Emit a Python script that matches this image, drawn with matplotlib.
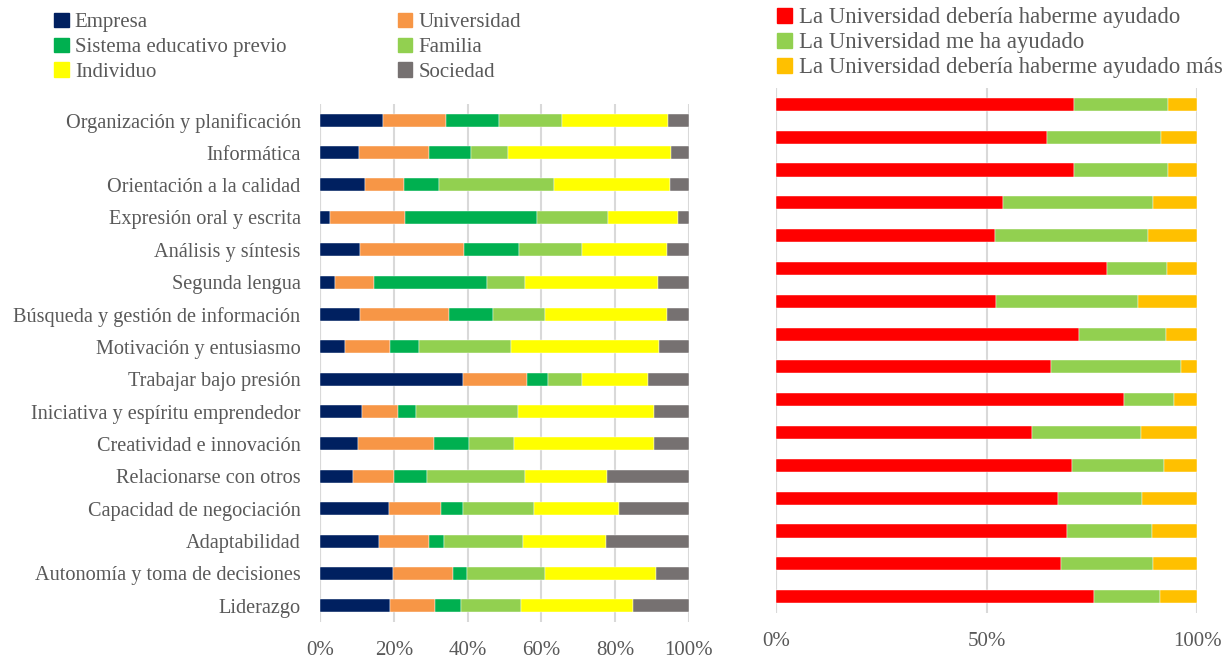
import numpy as np
import matplotlib
matplotlib.use("Agg")
from matplotlib import pyplot as plt
from matplotlib.patches import Patch
from matplotlib.ticker import PercentFormatter

plt.rcParams['font.family'] = ['Liberation Serif', 'DejaVu Serif']

competencias = ["Organización y planificación", "Informática", "Orientación a la calidad",
                "Expresión oral y escrita", "Análisis y síntesis", "Segunda lengua",
                "Búsqueda y gestión de información", "Motivación y entusiasmo",
                "Trabajar bajo presión", "Iniciativa y espíritu emprendedor",
                "Creatividad e innovación", "Relacionarse con otros",
                "Capacidad de negociación", "Adaptabilidad",
                "Autonomía y toma de decisiones", "Liderazgo"]

# izquierda: quien ha contribuido (%)
empresa     = [17.0, 10.6, 12.3, 2.8, 10.8, 4.1, 10.8, 6.8, 38.8, 11.4, 10.3, 8.9, 18.8, 16.1, 19.8, 19.0]
universidad = [17.1, 18.8, 10.5, 20.1, 28.1, 10.5, 24.1, 12.1, 17.2, 9.6, 20.7, 11.2, 14.1, 13.4, 16.2, 12.2]
sistema     = [14.4, 11.5, 9.4, 35.9, 15.0, 30.6, 12.0, 7.9, 5.9, 5.1, 9.4, 9.0, 5.9, 4.1, 3.8, 7.0]
familia     = [17.1, 10.0, 31.3, 19.2, 17.1, 10.4, 14.0, 25.0, 9.1, 27.6, 12.3, 26.5, 19.1, 21.4, 21.2, 16.3]
individuo   = [28.7, 44.2, 31.4, 19.0, 23.0, 36.0, 33.1, 40.2, 18.0, 36.8, 37.8, 22.1, 23.0, 22.5, 30.1, 30.3]
sociedad    = [5.7, 4.9, 5.1, 3.0, 6.0, 8.4, 6.0, 8.0, 11.0, 9.5, 9.5, 22.3, 19.1, 22.5, 8.9, 15.2]

# derecha: papel de la universidad (%)
deberia     = [70.8, 64.4, 70.8, 54.0, 51.9, 78.7, 52.3, 71.9, 65.4, 82.6, 60.9, 70.4, 66.9, 69.2, 67.7, 75.6]
ha_ayudado  = [22.2, 27.0, 22.2, 35.6, 36.4, 14.2, 33.6, 20.8, 30.7, 12.0, 25.9, 21.8, 20.1, 20.1, 21.8, 15.6]
deberia_mas = [7.0, 8.6, 7.0, 10.4, 11.7, 7.1, 14.1, 7.3, 3.9, 5.4, 13.2, 7.8, 13.0, 10.7, 10.5, 8.8]

izq_series = [("Empresa", empresa, "#002060"), ("Universidad", universidad, "#F79646"),
              ("Sistema educativo previo", sistema, "#00B050"), ("Familia", familia, "#92D050"),
              ("Individuo", individuo, "#FFFF00"), ("Sociedad", sociedad, "#767171")]
der_series = [("La Universidad debería haberme ayudado", deberia, "#FF0000"),
              ("La Universidad me ha ayudado", ha_ayudado, "#92D050"),
              ("La Universidad debería haberme ayudado más", deberia_mas, "#FFC000")]

gris = "#595959"
fig = plt.figure(figsize=(12.29, 6.61), dpi=100)
ax1 = fig.add_axes([0.2604, 0.059, 0.3002, 0.7837])
ax2 = fig.add_axes([0.6314, 0.0726, 0.3426, 0.7943])

y = np.arange(len(competencias))


def apilar(ax, series):
    tot = np.sum([s[1] for s in series], axis=0)
    izq = np.zeros(len(y))
    for nombre, vals, col in series:
        v = np.array(vals) / tot * 100
        ax.barh(y, v, left=izq, height=0.4, color=col, edgecolor="white", linewidth=0.3,
                label=nombre, zorder=3)
        izq += v


apilar(ax1, izq_series)
apilar(ax2, der_series)

for ax, ticks in [(ax1, [0, 20, 40, 60, 80, 100]), (ax2, [0, 50, 100])]:
    ax.set_xlim(0, 100)
    ax.set_ylim(len(y) - 0.5, -0.5)
    ax.set_xticks(ticks)
    ax.xaxis.set_major_formatter(PercentFormatter(decimals=0))
    ax.grid(axis="x", color="#d9d9d9", linewidth=1.5, zorder=0)
    for s in ["top", "right", "bottom", "left"]:
        ax.spines[s].set_visible(False)
    ax.axvline(0, color="#d9d9d9", linewidth=1.5, zorder=1)
    ax.tick_params(axis="x", length=0, pad=14, labelsize=15, labelcolor=gris)
    ax.tick_params(axis="y", length=0)

ax1.set_yticks(y)
ax1.set_yticklabels(competencias, fontsize=14.6, color=gris)
ax1.tick_params(axis="y", pad=14)
ax2.set_yticks([])

h1 = [Patch(color=c) for _, _, c in izq_series]
l1 = [n for n, _, _ in izq_series]
orden = [0, 2, 4, 1, 3, 5]
fig.legend([h1[i] for i in orden], [l1[i] for i in orden], ncol=2, loc="upper left",
           bbox_to_anchor=(0.0287, 1.009), frameon=False, fontsize=15, labelcolor=gris,
           handlelength=0.7, handleheight=0.7, handletextpad=0.3, columnspacing=5.35,
           labelspacing=0.25)

h2 = [Patch(color=c) for _, _, c in der_series]
l2 = [n for n, _, _ in der_series]
fig.legend(h2, l2, loc="upper left", bbox_to_anchor=(0.6155, 1.020), frameon=False,
           fontsize=16.4, labelcolor=gris, handlelength=0.65, handleheight=0.65,
           handletextpad=0.3, labelspacing=0.18)

fig.savefig("out.png", dpi=100)
